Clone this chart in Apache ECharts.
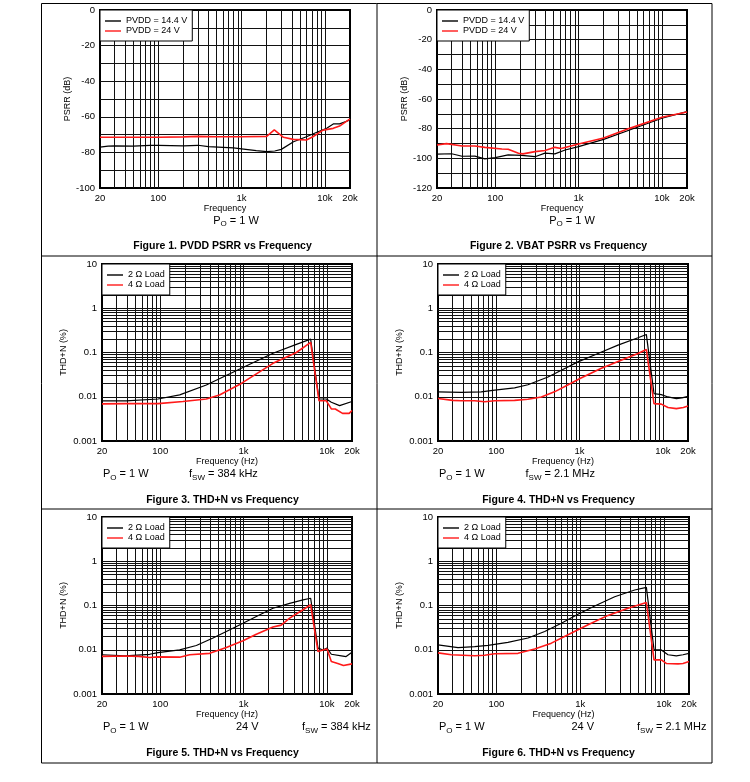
<!DOCTYPE html>
<html><head><meta charset="utf-8">
<script src="https://cdn.jsdelivr.net/npm/echarts@6/dist/echarts.min.js"></script>
<style>html,body{margin:0;padding:0;background:#fff}#c{width:750px;height:782px}</style>
</head><body><div id="c"></div>
<script>
// ---------- DATA ----------
// Figure 1: PVDD PSRR (dB)
const f1_black = [20,25,30,50,80,100,200,300,400,600,800,1000,1500,2000,2500,3000,4200,6000,8000,10500,12600,15000,20000];
const v1_black = [-77,-76.5,-76.3,-76.5,-76,-76,-76.3,-76,-76.8,-77.2,-77.5,-78,-79,-79.6,-79.2,-78.3,-74,-71.2,-68.7,-66.5,-64,-64,-61.8];
const f1_red = [20,50,100,200,300,500,1000,2000,2470,3180,4180,6000,7170,9500,12600,15000,20000];
const v1_red = [-71.5,-71.5,-71.5,-71.3,-71,-71.2,-71.2,-71,-67.4,-71.5,-72.7,-73,-71.2,-67.5,-66.5,-65.2,-61.2];
// Figure 2: VBAT PSRR (dB)
const f2_black = [20,30,40,57,75,100,143,208,300,395,520,690,1000,2000,4100,10000,20000];
const v2_black = [-97.1,-96.9,-98.6,-98.5,-100.4,-99.5,-97.7,-98,-98.9,-96.5,-97,-94.4,-92.1,-87.2,-80.9,-73,-68.5];
const f2_red = [20,26,40,57,75,120,143,190,215,300,395,520,620,1000,2000,4100,10000,20000];
const v2_red = [-91,-90.1,-91.7,-91.7,-92.6,-93.7,-93.9,-96.6,-97,-95.5,-94.7,-92.6,-93.4,-90.3,-86.3,-79.8,-72.3,-68.8];
// Figure 3: THD+N (%), fsw 384 kHz
const f3_black = [20,39,94,171,357,940,2254,4300,6380,8040,9850,11300,14200,20000];
const v3_black = [0.0081,0.0081,0.0089,0.011,0.0184,0.044,0.096,0.153,0.2,0.0089,0.0089,0.0075,0.0063,0.0078];
const f3_red = [20,39,94,187,357,514,940,2254,4300,6380,8040,9850,11300,12600,15400,18500,20000];
const v3_red = [0.0069,0.007,0.007,0.0078,0.0089,0.011,0.02,0.057,0.1,0.17,0.0081,0.0081,0.0053,0.0053,0.0042,0.0042,0.0049];
// Figure 4: THD+N (%), fsw 2.1 MHz
const f4_black = [20,38,66,96,166,240,418,604,957,1664,2890,5024,6325,7820,9570,11510,14500,16900,20000];
const v4_black = [0.0129,0.0126,0.0129,0.0141,0.0159,0.0187,0.028,0.0398,0.0613,0.095,0.147,0.215,0.256,0.0118,0.0112,0.0099,0.0091,0.0094,0.0102];
const f4_red = [20,30,38,55,72.6,96,166,240,348,500,720,1040,1800,3150,5024,6325,7820,9570,11510,14500,17600,20000];
const v4_red = [0.0091,0.0083,0.0081,0.0081,0.0077,0.0081,0.0083,0.0088,0.0099,0.0129,0.0184,0.0266,0.0434,0.0668,0.095,0.117,0.007,0.0068,0.0057,0.0054,0.0057,0.0062];
// Figure 5: THD+N (%), 24 V, fsw 384 kHz
const f5_black = [20,38,74.6,94,171,271,430,621,984,1422,2254,3573,5165,6380,7816,8975,10024,11300,14900,17000,20000];
const v5_black = [0.0077,0.0073,0.0079,0.0086,0.0099,0.0125,0.0184,0.0258,0.0398,0.0566,0.0866,0.112,0.134,0.146,0.0109,0.0099,0.0109,0.0079,0.0073,0.007,0.0088];
const f5_red = [20,38,55,74.6,94,171,225,392,621,984,1422,2254,2830,3573,5165,6380,7816,8975,10024,11300,13500,15800,20000];
const v5_red = [0.0071,0.0072,0.0071,0.0067,0.0069,0.0068,0.0077,0.0083,0.0113,0.0159,0.0224,0.0326,0.036,0.0518,0.0802,0.104,0.0091,0.0099,0.0104,0.0054,0.0049,0.0044,0.0048];
// Figure 6: THD+N (%), 24 V, fsw 2.1 MHz
const f6_black = [20,34.7,54.9,79.2,137,238,377,596,942,1492,2588,4487,6190,7640,9340,11220,14120,16960,20000];
const v6_black = [0.0129,0.0112,0.0118,0.0126,0.0147,0.0184,0.0258,0.0398,0.0634,0.0976,0.158,0.224,0.256,0.0099,0.0099,0.0077,0.0073,0.0077,0.0083];
const f6_red = [20,28.9,55,72,95,181,286,453,716,1242,2153,3735,6190,7640,9340,10710,14800,16960,20000];
const v6_red = [0.0085,0.0077,0.0073,0.0075,0.0081,0.0083,0.0104,0.0141,0.0218,0.0367,0.0598,0.0866,0.117,0.0059,0.0059,0.0049,0.0048,0.0049,0.0054];

// Series names
const psrrNames = ['PVDD = 14.4 V', 'PVDD = 24 V'];
const thdNames = ['2 \u03A9 Load', '4 \u03A9 Load'];

// Tick labels
const xTickValues = [20, 100, 1000, 10000, 20000];
const xTickText = ['20', '100', '1k', '10k', '20k'];
const yThdTickValues = [0.001, 0.01, 0.1, 1, 10];
const yThdTickText = ['0.001', '0.01', '0.1', '1', '10'];

// Grid lines
const xGrid = [30,40,50,60,70,80,90,100,200,300,400,500,600,700,800,900,1000,2000,3000,4000,5000,6000,7000,8000,9000,10000];
const yGridPsrr1 = [-10,-20,-30,-40,-50,-60,-70,-80,-90];
const yGridPsrr2 = [-10,-20,-30,-40,-50,-60,-70,-80,-90,-100,-110];
const yGridThd = [0.002,0.003,0.004,0.005,0.006,0.007,0.008,0.009,0.01,0.02,0.03,0.04,0.05,0.06,0.07,0.08,0.09,0.1,0.2,0.3,0.4,0.5,0.6,0.7,0.8,0.9,1,2,3,4,5,6,7,8,9];

// ---------- LAYOUT ----------
const FONT = '"Liberation Sans", Arial, Helvetica, sans-serif';
const panels = [
  {grid:{left:100,top:10,width:250,height:178}, kind:'psrr', ymin:-100, names:psrrNames, xName:'Frequency', yName:'PSRR (dB)', yGap:27, yGrid:yGridPsrr1, s:[[f1_black,v1_black],[f1_red,v1_red]]},
  {grid:{left:437,top:10,width:250,height:178}, kind:'psrr', ymin:-120, names:psrrNames, xName:'Frequency', yName:'PSRR (dB)', yGap:27, yGrid:yGridPsrr2, s:[[f2_black,v2_black],[f2_red,v2_red]]},
  {grid:{left:102,top:264,width:250,height:177}, kind:'thd', names:thdNames, xName:'Frequency (Hz)', yName:'THD+N (%)', yGap:34, yGrid:yGridThd, s:[[f3_black,v3_black],[f3_red,v3_red]]},
  {grid:{left:438,top:264,width:250,height:177}, kind:'thd', names:thdNames, xName:'Frequency (Hz)', yName:'THD+N (%)', yGap:34, yGrid:yGridThd, s:[[f4_black,v4_black],[f4_red,v4_red]]},
  {grid:{left:102,top:517,width:250,height:177}, kind:'thd', names:thdNames, xName:'Frequency (Hz)', yName:'THD+N (%)', yGap:34, yGrid:yGridThd, s:[[f5_black,v5_black],[f5_red,v5_red]]},
  {grid:{left:438,top:517,width:251,height:177}, kind:'thd', names:thdNames, xName:'Frequency (Hz)', yName:'THD+N (%)', yGap:34, yGrid:yGridThd, s:[[f6_black,v6_black],[f6_red,v6_red]]}
];
const colors = ['#000000', '#ff1a1a'];
const widths = [1.2, 1.6];

function fmtX(v) {
  for (let i = 0; i < xTickValues.length; i++) if (Math.abs(v - xTickValues[i]) / xTickValues[i] < 1e-6) return xTickText[i];
  return '';
}
function fmtYThd(v) {
  for (let i = 0; i < yThdTickValues.length; i++) if (Math.abs(v - yThdTickValues[i]) / yThdTickValues[i] < 1e-6) return yThdTickText[i];
  return '';
}

const option = {
  animation: false,
  backgroundColor: '#fff',
  textStyle: {fontFamily: FONT},
  grid: panels.map(p => Object.assign({show:true, borderColor:'#000', borderWidth:2, backgroundColor:'rgba(0,0,0,0)', containLabel:false}, p.grid)),
  xAxis: panels.map((p, i) => ({
    type:'log', logBase:10, gridIndex:i, min:20, max:20000,
    name:p.xName, nameLocation:'middle', nameGap:15,
    nameTextStyle:{fontSize:9, color:'#000', fontFamily:FONT},
    axisLine:{show:false}, axisTick:{show:false}, splitLine:{show:false},
    axisLabel:{fontSize:9.5, color:'#000', margin:5, fontFamily:FONT, formatter:fmtX}
  })),
  yAxis: panels.map((p, i) => p.kind === 'psrr' ? ({
    type:'value', gridIndex:i, min:p.ymin, max:0, interval:20,
    name:p.yName, nameLocation:'middle', nameGap:p.yGap,
    nameTextStyle:{fontSize:9, color:'#000', fontFamily:FONT},
    axisLine:{show:false}, axisTick:{show:false}, splitLine:{show:false},
    axisLabel:{fontSize:9.5, color:'#000', margin:5, fontFamily:FONT}
  }) : ({
    type:'log', logBase:10, gridIndex:i, min:0.001, max:10,
    name:p.yName, nameLocation:'middle', nameGap:p.yGap,
    nameTextStyle:{fontSize:9, color:'#000', fontFamily:FONT},
    axisLine:{show:false}, axisTick:{show:false}, splitLine:{show:false},
    axisLabel:{fontSize:9.5, color:'#000', margin:5, fontFamily:FONT, formatter:fmtYThd}
  })),
  legend: panels.map(p => ({
    left:p.grid.left, top:p.grid.top, orient:'vertical', data:p.names,
    icon:'rect',
    backgroundColor:'#fff', borderColor:'#000', borderWidth:1, borderRadius:0,
    padding:[6,5,5,5], itemWidth:16, itemHeight:1.4, itemGap:0,
    selectedMode:false, z:20,
    textStyle:{fontSize:9, color:'#000', fontFamily:FONT, lineHeight:10}
  })),
  series: []
};

panels.forEach((p, i) => {
  option.series.push({
    type:'line', xAxisIndex:i, yAxisIndex:i, data:[], silent:true, z:1,
    markLine:{
      silent:true, z:1, animation:false, symbol:['none','none'],
      label:{show:false}, emphasis:{disabled:true},
      lineStyle:{color:'#111', width:1, type:'solid'},
      data: xGrid.map(v => ({xAxis:v})).concat(p.yGrid.map(v => ({yAxis:v})))
    }
  });
  p.s.forEach((sv, k) => {
    option.series.push({
      type:'line', name:p.names[k], xAxisIndex:i, yAxisIndex:i,
      data: sv[0].map((f, j) => [f, sv[1][j]]),
      symbol:'none', silent:true, z:10,
      lineStyle:{color:colors[k], width:widths[k]},
      itemStyle:{color:colors[k]}
    });
  });
});

// Annotations and captions
function rt(x, y, text, align) {
  return {type:'text', x:x, y:y, silent:true, z:50, style:{
    text:text, align:align || 'left', verticalAlign:'middle', fill:'#000', fontFamily:FONT,
    rich:{
      a:{fontSize:11, lineHeight:12, padding:[0,0,2,0], verticalAlign:'bottom', fontFamily:FONT, fill:'#000'},
      b:{fontSize:8, lineHeight:8, verticalAlign:'bottom', fontFamily:FONT, fill:'#000'}
    }
  }};
}
function cap(x, y, text) {
  return {type:'text', x:x, y:y, silent:true, z:50, style:{
    text:text, align:'center', verticalAlign:'middle', fill:'#000', fontFamily:FONT, fontSize:10.5, fontWeight:'bold'
  }};
}
const PO = '{a|P}{b|O}{a| = 1 W}';
option.graphic = [
  {type:'rect', silent:true, z:0, shape:{x:41.5, y:3.5, width:670.5, height:759.5}, style:{fill:null, stroke:'#000', lineWidth:1}},
  {type:'line', silent:true, z:0, shape:{x1:377, y1:3.5, x2:377, y2:763}, style:{stroke:'#000', lineWidth:1}},
  {type:'line', silent:true, z:0, shape:{x1:41.5, y1:256, x2:712, y2:256}, style:{stroke:'#000', lineWidth:1}},
  {type:'line', silent:true, z:0, shape:{x1:41.5, y1:509, x2:712, y2:509}, style:{stroke:'#000', lineWidth:1}},
  rt(236, 222, PO, 'center'),
  rt(572, 222, PO, 'center'),
  rt(103, 475.5, PO), rt(189, 475.5, '{a|f}{b|SW}{a| = 384 kHz}'),
  rt(439, 475.5, PO), rt(525.5, 475.5, '{a|f}{b|SW}{a| = 2.1 MHz}'),
  rt(103, 728.5, PO), rt(236, 728.5, '{a|24 V}'), rt(302, 728.5, '{a|f}{b|SW}{a| = 384 kHz}'),
  rt(439, 728.5, PO), rt(571.5, 728.5, '{a|24 V}'), rt(637, 728.5, '{a|f}{b|SW}{a| = 2.1 MHz}'),
  cap(222.5, 246.5, 'Figure 1. PVDD PSRR vs Frequency'),
  cap(558.5, 246.5, 'Figure 2. VBAT PSRR vs Frequency'),
  cap(222.5, 500, 'Figure 3. THD+N vs Frequency'),
  cap(558.5, 500, 'Figure 4. THD+N vs Frequency'),
  cap(222.5, 753.5, 'Figure 5. THD+N vs Frequency'),
  cap(558.5, 753.5, 'Figure 6. THD+N vs Frequency')
];

const chart = echarts.init(document.getElementById('c'), null, {renderer:'canvas'});
chart.setOption(option);
</script>
</body></html>
